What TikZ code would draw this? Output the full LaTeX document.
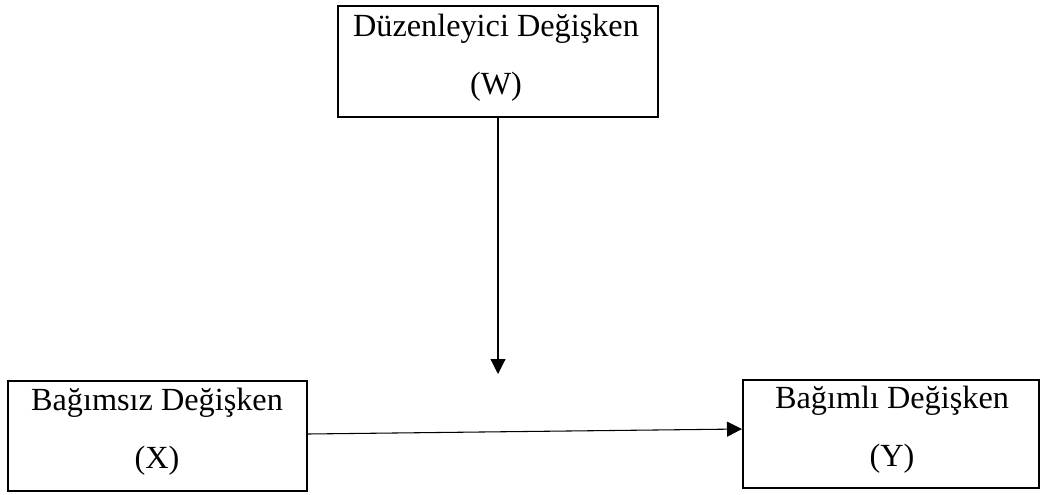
\documentclass[tikz,border=0pt]{standalone}
\usepackage{fontspec}
\setmainfont{Liberation Serif}
\usetikzlibrary{arrows.meta}
\begin{document}
\begin{tikzpicture}[x=0.75pt,y=-0.75pt,
  box/.style={draw=black,line width=1.5pt,rectangle,inner sep=0pt},
  lbl/.style={anchor=base,inner sep=0pt,font=\fontsize{24.2}{29}\selectfont},
  conn/.style={draw=black,line width=0.8pt,-{Triangle[width=11.25pt,length=11.25pt]}}]
\useasboundingbox (0,0) rectangle (1041,495);
\node[box,minimum width=240pt,minimum height=83pt] (W) at (498,61.5) {};
\node[box,minimum width=224.25pt,minimum height=82pt] (X) at (157.5,436) {};
\node[box,minimum width=222pt,minimum height=81pt] (Y) at (891,434) {};
\node[lbl] (W1) at (496,37) {Düzenleyici Değişken};
\node[lbl] (W2) at (496,95) {(W)};
\node[lbl] (X1) at (157,410) {Bağımsız Değişken};
\node[lbl] (X2) at (157,468) {(X)};
\node[lbl] (Y1) at (892,408) {Bağımlı Değişken};
\node[lbl] (Y2) at (892,466) {(Y)};
\coordinate (wend) at (498,374);
\coordinate (xs) at (308,434);
\coordinate (ye) at (742,429);
\draw[conn] (W.south) -- (wend);
\draw[conn] (xs) -- (ye);
\end{tikzpicture}
\end{document}
